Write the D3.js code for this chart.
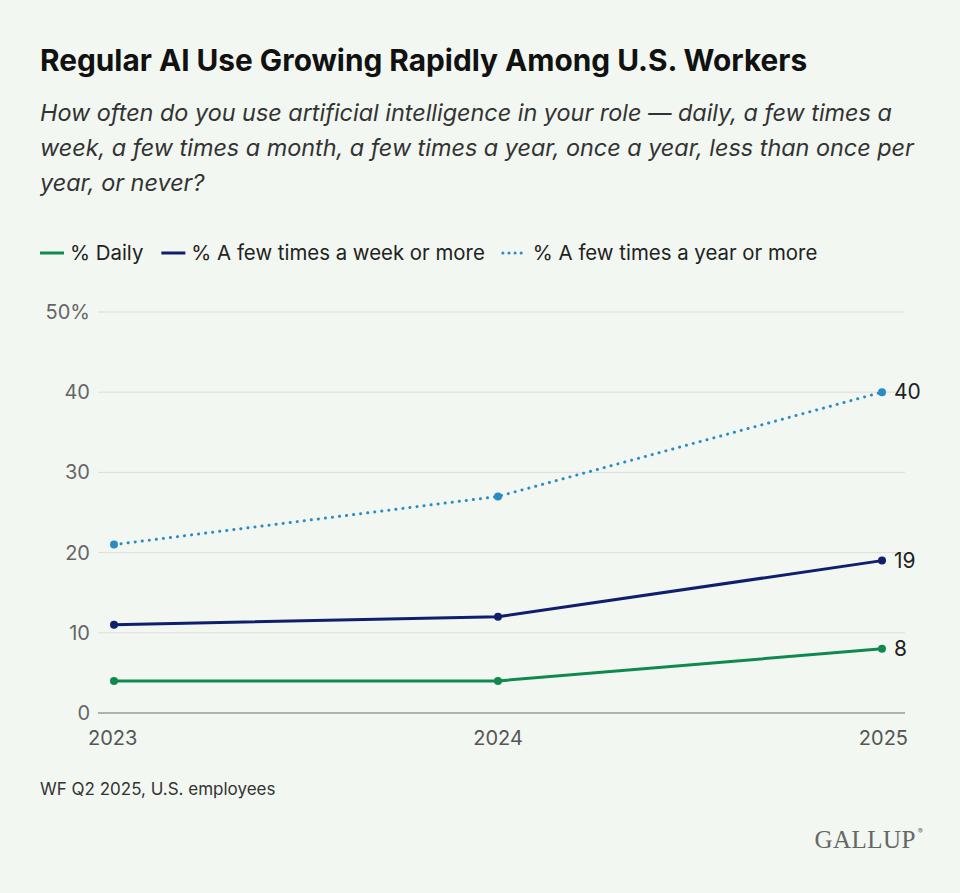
<!DOCTYPE html>
<html><head><meta charset="utf-8">
<script src="https://cdn.jsdelivr.net/npm/d3@7"></script>
<style>
body{margin:0;background:#f2f7f1;font-family:Inter,"Noto Sans",sans-serif;}
</style></head>
<body><svg id="chart" width="960" height="893"></svg>
<script>
const years = [2023, 2024, 2025];
const daily = [4, 4, 8];
const weekly = [11, 12, 19];
const yearly = [21, 27, 40];
const yTicks = [0, 10, 20, 30, 40, 50];

const svg = d3.select("svg#chart");
svg.append("rect").attr("width", 960).attr("height", 893).attr("fill", "#f2f7f1");

svg.append("text").attr("x", 40).attr("y", 71).attr("font-size", 29.8).attr("font-weight", 700)
  .attr("fill", "#111").text("Regular AI Use Growing Rapidly Among U.S. Workers");
const sub = ["How often do you use artificial intelligence in your role \u2014 daily, a few times a",
  "week, a few times a month, a few times a year, once a year, less than once per",
  "year, or never?"];
sub.forEach((s, i) => svg.append("text").attr("x", 40).attr("y", 121 + i * 35)
  .attr("font-size", 23.4).attr("font-style", "italic").attr("fill", "#333").text(s));

const series = [
  { name: "% Daily", values: daily, color: "#0f8a4f", dash: null },
  { name: "% A few times a week or more", values: weekly, color: "#0f1f6b", dash: null },
  { name: "% A few times a year or more", values: yearly, color: "#2b8cc4", dash: "0.1,7" }
];

// legend
let lx = 40;
series.forEach(s => {
  svg.append("line").attr("x1", lx).attr("x2", lx + 24).attr("y1", 253).attr("y2", 253)
    .attr("stroke", s.color).attr("stroke-width", 3)
    .attr("stroke-dasharray", s.dash ? "0.1,6" : null).attr("stroke-linecap", s.dash ? "round" : null);
  const t = svg.append("text").attr("x", lx + 30).attr("y", 260).attr("font-size", 20.4)
    .attr("fill", "#222").text(s.name);
  lx += 30 + t.node().getComputedTextLength() + 18;
});

const x = d3.scalePoint().domain(years).range([114, 882]);
const y = d3.scaleLinear().domain([0, 50]).range([713, 312]);

const grid = svg.append("g");
yTicks.forEach(v => {
  grid.append("line").attr("x1", 98).attr("x2", 905).attr("y1", y(v)).attr("y2", y(v))
    .attr("stroke", v === 0 ? "#999" : "#dcdedc").attr("stroke-width", v === 0 ? 1.5 : 1);
  grid.append("text").attr("x", 90).attr("y", y(v) + 7).attr("text-anchor", "end")
    .attr("font-size", 20).attr("fill", "#666").text(v === 50 ? "50%" : v);
});
years.forEach(yr => {
  svg.append("text").attr("x", x(yr)).attr("y", 745).attr("font-size", 20).attr("fill", "#555")
    .attr("text-anchor", yr === 2023 ? "start" : yr === 2025 ? "end" : "middle")
    .attr("dx", yr === 2023 ? -26 : yr === 2025 ? 26 : 0).text(yr);
});

const line = d3.line().x((d, i) => x(years[i])).y(d => y(d));
series.forEach(s => {
  svg.append("path").datum(s.values).attr("d", line).attr("fill", "none")
    .attr("stroke", s.color).attr("stroke-width", 3).attr("stroke-dasharray", s.dash)
    .attr("stroke-linecap", s.dash ? "round" : null).attr("stroke-linejoin", "round");
  svg.selectAll(null).data(s.values).enter().append("circle")
    .attr("cx", (d, i) => x(years[i])).attr("cy", d => y(d)).attr("r", 4).attr("fill", s.color);
  svg.append("text").attr("x", x(2025) + 12).attr("y", y(s.values[2]) + 7)
    .attr("font-size", 21).attr("fill", "#222").text(s.values[2]);
});

svg.append("text").attr("x", 40).attr("y", 795).attr("font-size", 17).attr("fill", "#333")
  .text("WF Q2 2025, U.S. employees");
svg.append("text").attr("x", 916).attr("y", 848).attr("text-anchor", "end")
  .attr("font-family", "Liberation Serif, serif").attr("font-size", 25).attr("fill", "#666")
  .attr("letter-spacing", 0.5).text("GALLUP");
svg.append("text").attr("x", 918).attr("y", 834).attr("font-size", 7).attr("fill", "#666").text("\u00ae");
</script></body></html>
